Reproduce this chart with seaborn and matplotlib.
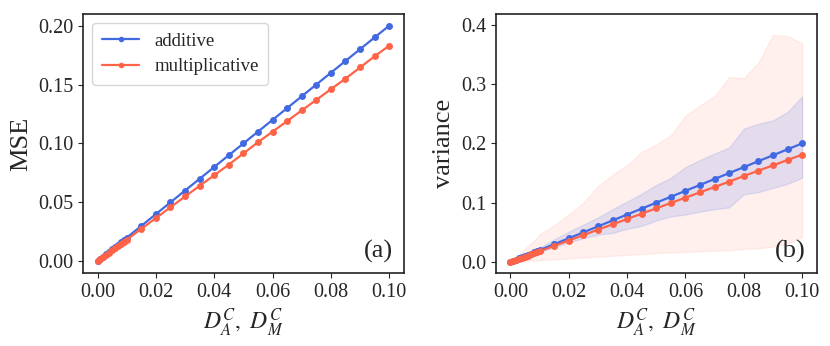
import matplotlib.pyplot as plt
import seaborn as sns
import pandas as pd

# noise level (x axis)
x_vals = [0.000, 0.001, 0.002, 0.003, 0.004, 0.005, 0.006, 0.007, 0.008, 0.009, 0.010,
          0.015, 0.020, 0.025, 0.030, 0.035, 0.040, 0.045, 0.050, 0.055, 0.060,
          0.065, 0.070, 0.075, 0.080, 0.085, 0.090, 0.095, 0.100]

# panel (a): MSE
mse_add = [0.000, 0.002, 0.004, 0.006, 0.008, 0.010, 0.012, 0.014, 0.016, 0.018, 0.020,
           0.030, 0.040, 0.050, 0.060, 0.070, 0.080, 0.090, 0.100, 0.110, 0.120,
           0.130, 0.140, 0.150, 0.160, 0.170, 0.180, 0.190, 0.200]
mse_mul = [0.000, 0.0018, 0.0037, 0.0055, 0.0073, 0.0092, 0.0110, 0.0128, 0.0146, 0.0165, 0.0183,
           0.0275, 0.0366, 0.0458, 0.0550, 0.0640, 0.0730, 0.0820, 0.0915, 0.1010, 0.1100,
           0.1190, 0.1280, 0.1370, 0.1460, 0.1550, 0.1645, 0.1740, 0.1830]

# panel (b): variance with spread bands
var_add = [0.000, 0.002, 0.004, 0.006, 0.008, 0.010, 0.012, 0.014, 0.016, 0.018, 0.020,
           0.030, 0.040, 0.050, 0.060, 0.070, 0.080, 0.090, 0.100, 0.110, 0.120,
           0.130, 0.140, 0.150, 0.160, 0.170, 0.180, 0.190, 0.200]
var_mul = [0.000, 0.0018, 0.0036, 0.0054, 0.0072, 0.0090, 0.0108, 0.0126, 0.0144, 0.0162, 0.0180,
           0.0272, 0.0362, 0.0453, 0.0545, 0.0635, 0.0725, 0.0815, 0.0905, 0.0995, 0.1085,
           0.1175, 0.1265, 0.1355, 0.1450, 0.1540, 0.1630, 0.1720, 0.1810]
add_lo = [0.000, 0.0017, 0.0034, 0.0051, 0.0068, 0.0085, 0.0102, 0.0119, 0.0136, 0.0153, 0.0170,
          0.025, 0.033, 0.040, 0.046, 0.049, 0.056, 0.061, 0.070, 0.077, 0.080,
          0.085, 0.089, 0.092, 0.114, 0.118, 0.125, 0.132, 0.142]
add_hi = [0.000, 0.0024, 0.0048, 0.0072, 0.0096, 0.0120, 0.0144, 0.0168, 0.0192, 0.0216, 0.0240,
          0.038, 0.051, 0.063, 0.075, 0.089, 0.102, 0.115, 0.130, 0.142, 0.160,
          0.172, 0.183, 0.193, 0.225, 0.233, 0.239, 0.253, 0.279]
mul_lo = [0.000, 0.0003, 0.0006, 0.0009, 0.0012, 0.0015, 0.0018, 0.0021, 0.0024, 0.0027, 0.0030,
          0.0045, 0.006, 0.0075, 0.009, 0.0105, 0.012, 0.013, 0.015, 0.016, 0.017,
          0.018, 0.019, 0.020, 0.022, 0.023, 0.026, 0.031, 0.042]
mul_hi = [0.000, 0.0045, 0.0090, 0.0135, 0.018, 0.0225, 0.027, 0.0315, 0.036, 0.041, 0.047,
          0.062, 0.080, 0.100, 0.128, 0.147, 0.163, 0.186, 0.198, 0.214, 0.247,
          0.264, 0.280, 0.312, 0.310, 0.336, 0.383, 0.381, 0.369]

BLUE = '#4169E1'
RED = '#FF6347'

sns.set_style('ticks')
plt.rcParams['font.family'] = ['Liberation Serif', 'DejaVu Serif']
plt.rcParams['mathtext.fontset'] = 'stix'
plt.rcParams['xtick.labelsize'] = 14.5
plt.rcParams['ytick.labelsize'] = 14.5

df = pd.DataFrame({'x': x_vals, 'mse_add': mse_add, 'mse_mul': mse_mul,
                   'var_add': var_add, 'var_mul': var_mul})

fig, (ax1, ax2) = plt.subplots(1, 2, figsize=(8.3, 3.46), dpi=100)
fig.subplots_adjust(left=0.1, right=0.984, bottom=0.211, top=0.96, wspace=0.287)

line_kw = dict(marker='o', markersize=5, markeredgewidth=0, linewidth=1.6)

# (a) MSE
sns.lineplot(data=df, x='x', y='mse_add', ax=ax1, color=BLUE, label='additive', **line_kw)
sns.lineplot(data=df, x='x', y='mse_mul', ax=ax1, color=RED, label='multiplicative', **line_kw)
ax1.set_ylabel('MSE', fontsize=19)
ax1.set_xlabel(r'$D_A^C,\ D_M^C$', fontsize=17)
ax1.set_yticks([0.0, 0.05, 0.10, 0.15, 0.20])
ax1.set_yticklabels(['0.00', '0.05', '0.10', '0.15', '0.20'])
leg = ax1.legend(loc='upper left', fontsize=13.5, frameon=True, handlelength=2.0,
                 borderpad=0.5, labelspacing=0.45)
for h in leg.get_lines():
    h.set_markersize(4)
ax1.text(0.965, 0.04, '(a)', transform=ax1.transAxes, ha='right', va='bottom', fontsize=19)

# (b) variance with bands
ax2.fill_between(df['x'], mul_lo, mul_hi, color=RED, alpha=0.09, linewidth=1)
ax2.fill_between(df['x'], add_lo, add_hi, color=BLUE, alpha=0.14, linewidth=1)
sns.lineplot(data=df, x='x', y='var_add', ax=ax2, color=BLUE, **line_kw)
sns.lineplot(data=df, x='x', y='var_mul', ax=ax2, color=RED, **line_kw)
ax2.set_ylabel('variance', fontsize=19)
ax2.set_xlabel(r'$D_A^C,\ D_M^C$', fontsize=17)
ax2.set_ylim(-0.0186, 0.4186)
ax2.set_yticks([0.0, 0.1, 0.2, 0.3, 0.4])
ax2.text(0.965, 0.04, '(b)', transform=ax2.transAxes, ha='right', va='bottom', fontsize=19)

for ax in (ax1, ax2):
    ax.set_xticks([0.0, 0.02, 0.04, 0.06, 0.08, 0.10])
    ax.set_xticklabels(['0.00', '0.02', '0.04', '0.06', '0.08', '0.10'])
    ax.set_xlim(-0.005, 0.105)
    for sp in ax.spines.values():
        sp.set_color('#222222')
        sp.set_linewidth(1.2)

fig.savefig('out.png', dpi=100)
